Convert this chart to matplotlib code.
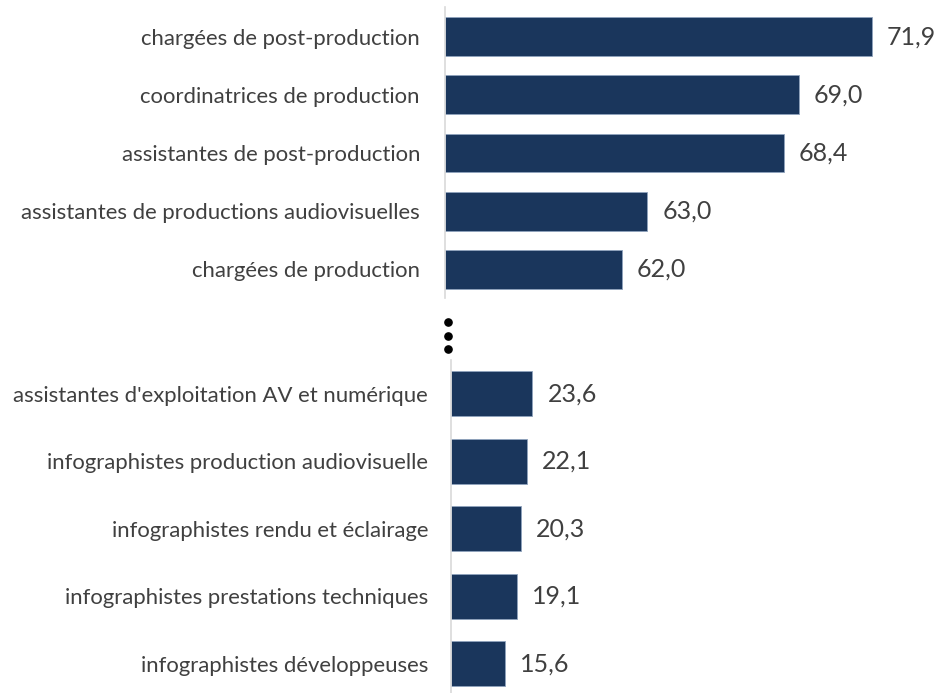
import matplotlib.pyplot as plt
from matplotlib.lines import Line2D

# Data
top_labels = ["chargées de post-production", "coordinatrices de production",
              "assistantes de post-production", "assistantes de productions audiovisuelles",
              "chargées de production"]
top_values = [71.9, 69.0, 68.4, 63.0, 62.0]

bottom_labels = ["assistantes d'exploitation AV et numérique",
                 "infographistes production audiovisuelle",
                 "infographistes rendu et éclairage",
                 "infographistes prestations techniques",
                 "infographistes développeuses"]
bottom_values = [23.6, 22.1, 20.3, 19.1, 15.6]

BAR_COLOR = "#1a365c"
TEXT_COLOR = "#404040"
plt.rcParams['font.family'] = ['Lato', 'DejaVu Sans']

W, H = 939, 693
fig = plt.figure(figsize=(W / 100, H / 100), dpi=100)


def px_axes(left, top, width, height):
    return fig.add_axes([left / W, 1 - (top + height) / H, width / W, height / H])


def draw_panel(ax, labels, values, bar_h, xmin, px_per_unit, ax_width, pad):
    y = list(range(len(labels)))
    ax.barh(y, [v - xmin for v in values], left=xmin, height=bar_h,
            color=BAR_COLOR, edgecolor="#8fa3bd", linewidth=0.6)
    ax.set_ylim(len(labels) - 0.5, -0.5)
    ax.set_xlim(xmin, xmin + ax_width / px_per_unit)
    ax.set_yticks(y)
    ax.set_yticklabels(labels, fontsize=15.9, color=TEXT_COLOR)
    ax.tick_params(axis='y', length=0, pad=pad)
    ax.set_xticks([])
    for s in ['top', 'right', 'bottom']:
        ax.spines[s].set_visible(False)
    ax.spines['left'].set_color("#d9d9d9")
    ax.spines['left'].set_linewidth(1.2)
    for yi, v in zip(y, values):
        ax.text(v + 15 / px_per_unit, yi, f"{v:.1f}".replace('.', ','),
                va='center', ha='left', fontsize=18, color=TEXT_COLOR)


# top panel: axis starts at 55 (truncated scale)
ax_top = px_axes(445, 7.5, 490, 291)
draw_panel(ax_top, top_labels, top_values, 0.67, 55.0, 25.27, 490, 18)

ax_bot = px_axes(451, 360, 480, 337.5)
draw_panel(ax_bot, bottom_labels, bottom_values, 0.66, 0.0, 3.45, 480, 16.5)

# vertical ellipsis separator between the two panels
fig.add_artist(Line2D([448 / W] * 3, [1 - 322 / H, 1 - 335.5 / H, 1 - 349 / H],
                      linestyle='none', marker='o', markersize=5.2, color='black'))

fig.savefig("out.png", dpi=100)
